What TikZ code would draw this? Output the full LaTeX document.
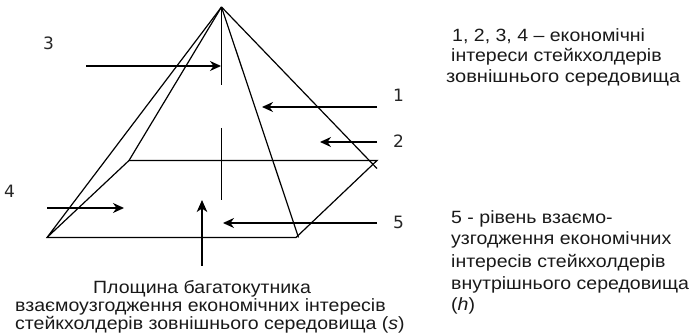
\documentclass[tikz,border=0pt]{standalone}
\usepackage{fontspec}
\setmainfont[FakeStretch=1.1]{Liberation Sans}
\newfontfamily\numfont{DejaVu Sans}
\newfontfamily\widefont[FakeStretch=1.13]{Liberation Sans}
\usetikzlibrary{arrows.meta}
\tikzset{
  edge/.style={draw=black,line width=1.2pt},
  arr/.style={draw=black,line width=1.3pt,-{Stealth[length=11pt,width=10pt,inset=3.5pt]}},
  bigarr/.style={draw=black,line width=1.8pt,-{Stealth[length=12pt,width=10.5pt,inset=3.5pt]}},
  num/.style={inner sep=0pt,font=\numfont\fontsize{17}{20}\selectfont,text=black!85},
  txt/.style={inner sep=0pt,font=\fontsize{17.75}{21}\selectfont,align=left,text=black!90},
}
\begin{document}
\begin{tikzpicture}[x=1pt,y=-1pt]
\useasboundingbox (0,0) rectangle (691,336);
\coordinate (A) at (221.5,7);
\coordinate (BL) at (47,237.5);
\coordinate (BR) at (296,237.5);
\coordinate (BRx) at (298.5,237.5);
\coordinate (KL) at (129,160.5);
\coordinate (KR) at (377,160.5);
\coordinate (KRx) at (377,168.5);
\coordinate (V1) at (221.5,85);
\coordinate (V2) at (221.5,128);
\coordinate (V3) at (221.5,200);
\draw[edge] (A) -- (BL) -- (BR) -- (KR) -- (KL) -- (BL);
\draw[edge] (A) -- (KL);
\draw[edge] (A) -- (BRx);
\draw[edge] (A) -- (KRx);
\draw[edge] (A) -- (V1);
\draw[edge] (V2) -- (V3);
\coordinate (a3s) at (86,66); \coordinate (a3e) at (221,66);
\coordinate (a1s) at (377,107); \coordinate (a1e) at (262,107);
\coordinate (a2s) at (377,142); \coordinate (a2e) at (320,142);
\coordinate (a4s) at (47,208); \coordinate (a4e) at (124,208);
\coordinate (a5s) at (377,223); \coordinate (a5e) at (223,223);
\coordinate (ups) at (202,266); \coordinate (upe) at (202,200);
\draw[arr] (a3s) -- (a3e);
\draw[arr] (a1s) -- (a1e);
\draw[arr] (a2s) -- (a2e);
\draw[arr] (a4s) -- (a4e);
\draw[arr] (a5s) -- (a5e);
\draw[bigarr] (ups) -- (upe);
\node[num] (n3) at (48.5,43) {3};
\node[num] (n1) at (398.5,95) {1};
\node[num] (n2) at (398.5,141) {2};
\node[num] (n4) at (9.5,191) {4};
\node[num] (n5) at (398.5,222) {5};
\node[txt,anchor=base west] (t1) at (93,293.5) {Площина багатокутника};
\node[txt,anchor=base west] (t2) at (15,312) {взаємоузгодження економічних інтересів};
\node[txt,anchor=base west] (t3) at (15,330) {стейкхолдерів зовнішнього середовища (\textit{s})};
\node[txt,anchor=base west] (r1) at (452,42) {1, 2, 3, 4 – економічні};
\node[txt,anchor=base west] (r2) at (451,62) {інтереси стейкхолдерів};
\node[txt,anchor=base west] (r3) at (446,83) {\widefont зовнішнього середовища};
\node[txt,anchor=base west] (q1) at (451,224) {5 - рівень взаємо-};
\node[txt,anchor=base west] (q2) at (451,245) {узгодження економічних};
\node[txt,anchor=base west] (q3) at (451,268) {інтересів стейкхолдерів};
\node[txt,anchor=base west] (q4) at (451,290) {внутрішнього середовища};
\node[txt,anchor=base west] (q5) at (451,311) {(\textit{h})};
\end{tikzpicture}
\end{document}
